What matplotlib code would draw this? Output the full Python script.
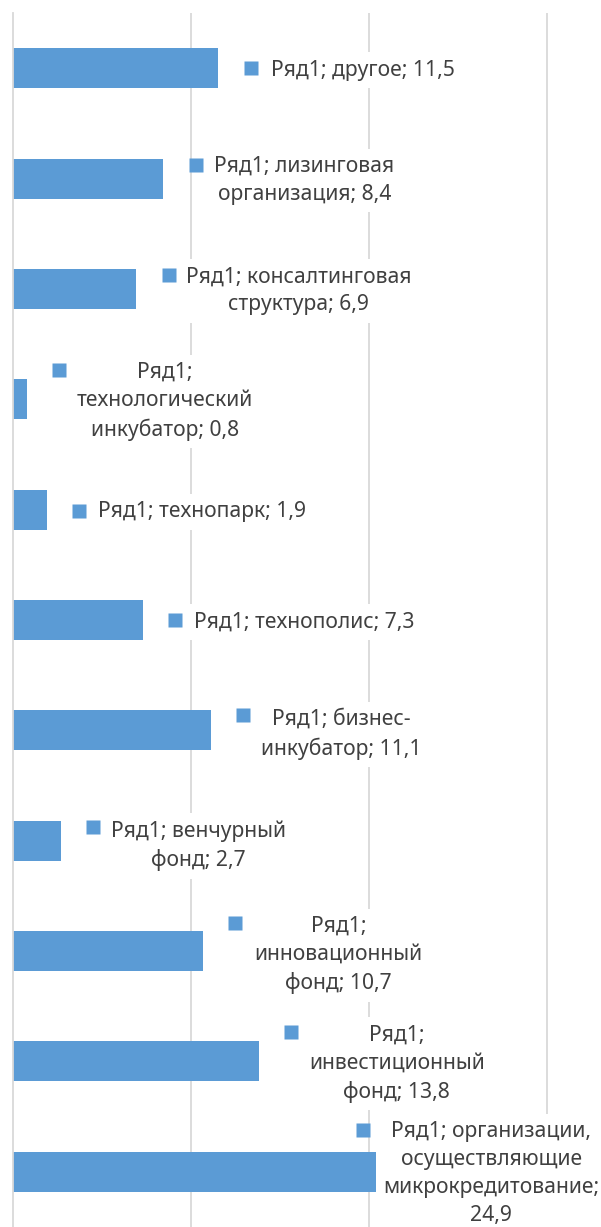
import numpy as np
import matplotlib
matplotlib.use('Agg')
import matplotlib.pyplot as plt
from matplotlib.transforms import offset_copy

plt.rcParams['font.family'] = ['Noto Sans', 'DejaVu Sans']

series = 'Ряд1'
categories = ['другое', 'лизинговая организация', 'консалтинговая структура',
              'технологический инкубатор', 'технопарк', 'технополис',
              'бизнес-инкубатор', 'венчурный фонд', 'инновационный фонд',
              'инвестиционный фонд', 'организации, осуществляющие микрокредитование']
values = [11.5, 8.4, 6.9, 0.8, 1.9, 7.3, 11.1, 2.7, 10.7, 13.8, 24.9]

# data labels as Excel wraps them
labels = ['Ряд1; другое; 11,5',
          'Ряд1; лизинговая\nорганизация; 8,4',
          'Ряд1; консалтинговая\nструктура; 6,9',
          'Ряд1;\nтехнологический\nинкубатор; 0,8',
          'Ряд1; технопарк; 1,9',
          'Ряд1; технополис; 7,3',
          'Ряд1; бизнес-\nинкубатор; 11,1',
          'Ряд1; венчурный\nфонд; 2,7',
          'Ряд1;\nинновационный\nфонд; 10,7',
          'Ряд1;\nинвестиционный\nфонд; 13,8',
          'Ряд1; организации,\nосуществляющие\nмикрокредитование;\n24,9']

# label layout: pixels from the bar end (dx to the right, dy downward)
text_off = [(145, 2), (142, 2), (163, 2), (138, 2), (155, 2), (161, 2),
            (131, 4), (137, 5), (135, 4), (138, 2), (35, 2)]
key_off = [(33, 0), (33, -14), (33, -14), (32, -29), (32, 1), (32, 0),
           (32, -15), (32, -14), (32, -28), (32, -29), (-93, -42)]

blue = '#5B9BD5'

fig = plt.figure(figsize=(6.01, 12.27), dpi=100)
ax = fig.add_axes([13 / 601, 0, 1 - 13 / 601, 1 - 13 / 1227])

y = np.arange(len(values))
ax.barh(y, values, height=0.362, color=blue, zorder=2)
ax.set_ylim(len(values) - 0.5, -0.5)
ax.set_xlim(0, 588 / 17.8)
ax.set_xticks([10, 20, 30])
ax.set_yticks([])
ax.grid(axis='x', color='#D9D9D9', lw=1.3, zorder=0)
ax.set_axisbelow(True)
ax.tick_params(length=0, labelbottom=False)
for s in ['top', 'right', 'bottom']:
    ax.spines[s].set_visible(False)
ax.spines['left'].set_color('#D9D9D9')
ax.spines['left'].set_linewidth(1.3)

for i, (v, lab) in enumerate(zip(values, labels)):
    dx, dy = text_off[i]
    ax.annotate(lab, xy=(v, i), xytext=(dx, -dy), textcoords='offset pixels',
                ha='center', va='center', multialignment='center',
                fontsize=15.2, color='#404040', linespacing=1.43,
                bbox=dict(boxstyle='square,pad=0.35', fc='white', ec='none'),
                zorder=4, annotation_clip=False)
    kx, ky = key_off[i]
    tr = offset_copy(ax.transData, fig=fig, x=kx, y=-ky, units='dots')
    ax.plot([v], [i], marker='s', ms=9.5, color=blue, mec='none',
            transform=tr, zorder=5, clip_on=False)

fig.savefig('out.png', dpi=100)
